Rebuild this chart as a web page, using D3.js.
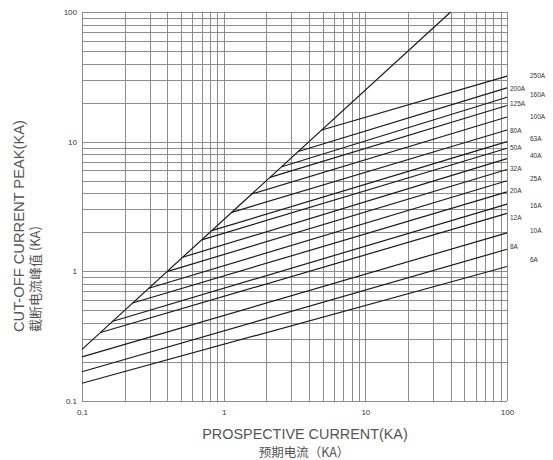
<!DOCTYPE html>
<html><head><meta charset="utf-8">
<script src="https://cdn.jsdelivr.net/npm/d3@7"></script>
<style>body{margin:0;background:#fff}svg{display:block}</style>
</head><body>
<svg id="chart" width="553" height="460"></svg>
<script>
// Fuse ratings and their cut-off characteristics (kA)
const ratings      = ["6A","8A","10A","12A","16A","20A","25A","32A","40A","50A","63A","80A","100A","125A","160A","200A","250A"];
const startCurrent = [0.1, 0.1, 0.1, 0.135, 0.163, 0.228, 0.296, 0.403, 0.514, 0.70, 0.823, 1.14, 1.58, 2.12, 2.57, 3.36, 4.92];
const startPeak    = [0.137, 0.168, 0.219, 0.3375, 0.41, 0.57, 0.74, 1.0, 1.285, 1.75, 2.06, 2.85, 3.95, 5.3, 6.4, 8.4, 12.3];
const endCurrent   = [100, 100, 100, 100, 100, 100, 100, 100, 100, 100, 100, 100, 100, 100, 100, 100, 100];
const endPeak      = [1.09, 1.48, 1.98, 2.8, 3.3, 4.1, 5.0, 6.1, 7.4, 8.9, 10, 12.3, 15.5, 19, 22, 26, 32];
const labelPeak    = [1.22, 1.55, 2.05, 2.59, 3.21, 4.16, 5.15, 6.23, 7.78, 8.97, 10.5, 12.1, 15.6, 19.5, 22.9, 25.8, 32.2];
const labelColumn  = [1, 0, 1, 0, 1, 0, 1, 0, 1, 0, 1, 0, 1, 0, 1, 0, 1];
// Maximum (unlimited) peak current line
const limitCurrent = [0.1, 40];
const limitPeak    = [0.25, 100];
// Axis ticks
const xTicks = [0.1, 1, 10, 100];
const yTicks = [0.1, 1, 10, 100];
const xTitle = ["PROSPECTIVE CURRENT(KA)", "预期电流（KA）"];
const yTitle = ["CUT-OFF CURRENT PEAK(KA)", "截断电流峰值 (KA)"];

const svg = d3.select("#chart");
const L = 82, R = 507, T = 12, B = 401;
const x = d3.scaleLog().domain([0.1, 100]).range([L, R]);
const y = d3.scaleLog().domain([0.1, 100]).range([B, T]);

// minor grid values
const gridVals = [];
[0.1, 1, 10].forEach(d => { for (let k = 1; k <= 9; k++) gridVals.push(+(d * k).toPrecision(3)); });
gridVals.push(100);

const grid = svg.append("g").attr("stroke", "#8c8c8c").attr("stroke-width", 1).attr("shape-rendering", "crispEdges");
grid.selectAll("line.v").data(gridVals).join("line").attr("class", "v")
  .attr("x1", d => Math.round(x(d)) + 0.5).attr("x2", d => Math.round(x(d)) + 0.5)
  .attr("y1", T).attr("y2", B);
grid.selectAll("line.h").data(gridVals).join("line").attr("class", "h")
  .attr("y1", d => Math.round(y(d)) + 0.5).attr("y2", d => Math.round(y(d)) + 0.5)
  .attr("x1", L).attr("x2", R);

// axes (labels only)
const fmt = d => d3.format("~g")(d);
const xAxis = svg.append("g").attr("transform", `translate(0,${B})`)
  .call(d3.axisBottom(x).tickValues(xTicks).tickFormat(fmt).tickSize(0).tickPadding(8));
const yAxis = svg.append("g").attr("transform", `translate(${L},0)`)
  .call(d3.axisLeft(y).tickValues(yTicks).tickFormat(fmt).tickSize(0).tickPadding(5));
[xAxis, yAxis].forEach(a => {
  a.select(".domain").remove();
  a.selectAll("text").attr("font-family", "Liberation Sans, Arial, sans-serif").attr("font-size", 8).attr("fill", "#333");
});

// curves
const line = d3.line().x(d => x(d[0])).y(d => y(d[1]));
svg.append("path")
  .attr("d", line(limitCurrent.map((c, i) => [c, limitPeak[i]])))
  .attr("fill", "none").attr("stroke", "#1a1a1a").attr("stroke-width", 1.2);

svg.append("g").selectAll("path").data(ratings).join("path")
  .attr("d", (r, i) => line([[startCurrent[i], startPeak[i]], [endCurrent[i], endPeak[i]]]))
  .attr("fill", "none").attr("stroke", "#1a1a1a").attr("stroke-width", 1.2);

// rating labels
svg.append("g").selectAll("text").data(ratings).join("text")
  .attr("x", (r, i) => labelColumn[i] ? 530 : 510)
  .attr("y", (r, i) => y(labelPeak[i]))
  .attr("dy", "0.35em")
  .attr("font-family", "Liberation Sans, Arial, sans-serif").attr("font-size", 6.5).attr("fill", "#333")
  .text(r => r);

// axis titles
const tf = "Liberation Sans, Arial, sans-serif";
svg.append("text").attr("x", 305).attr("y", 439).attr("text-anchor", "middle")
  .attr("font-family", tf).attr("font-size", 14.4).attr("fill", "#555").text(xTitle[0]);
svg.append("text").attr("x", 304).attr("y", 457).attr("text-anchor", "middle")
  .attr("font-family", "Noto Sans CJK SC, sans-serif").attr("font-size", 12.5).attr("fill", "#555").text(xTitle[1]);
svg.append("text").attr("transform", "translate(24,332) rotate(-90)")
  .attr("font-family", tf).attr("font-size", 14.7).attr("fill", "#555").text(yTitle[0]);
svg.append("text").attr("transform", "translate(40,332) rotate(-90)")
  .attr("font-family", "Noto Sans CJK SC, sans-serif").attr("font-size", 13).attr("fill", "#555").text(yTitle[1]);
</script>
</body></html>
